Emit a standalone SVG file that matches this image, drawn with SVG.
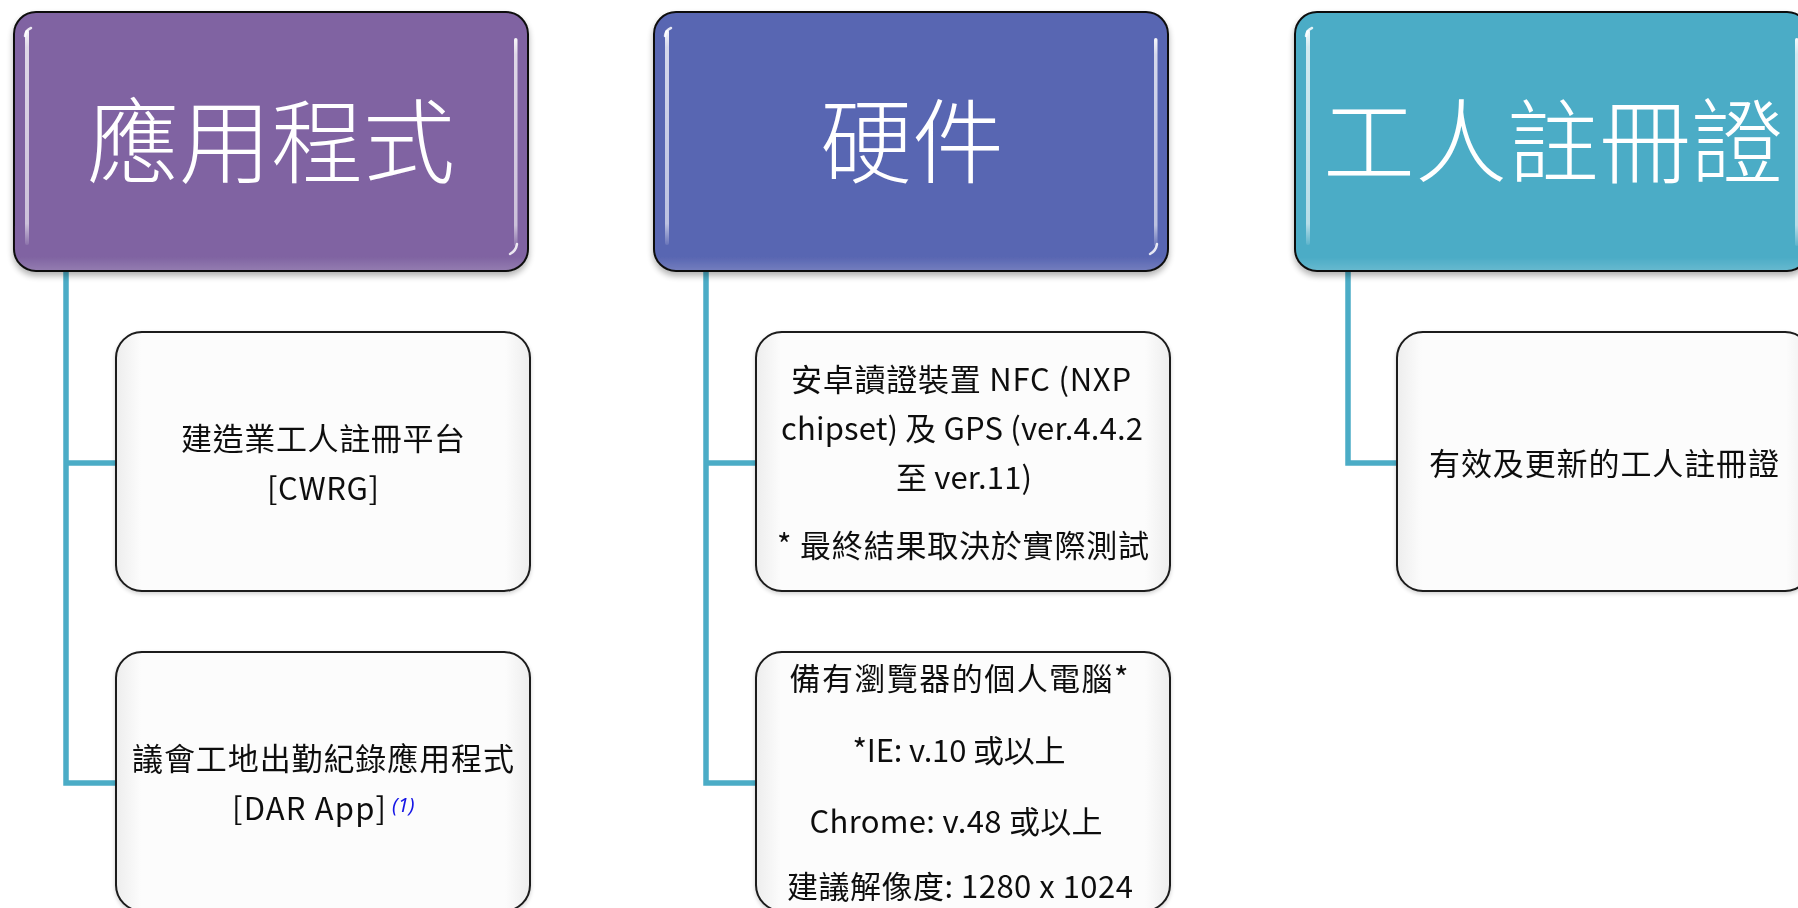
<svg xmlns="http://www.w3.org/2000/svg" width="1798" height="908" viewBox="0 0 1798 908">
  <defs>
    <filter id="sh" x="-5%" y="-5%" width="110%" height="115%">
      <feGaussianBlur in="SourceAlpha" stdDeviation="3"/>
      <feOffset dy="4" result="o"/>
      <feComponentTransfer><feFuncA type="linear" slope="0.3"/></feComponentTransfer>
      <feMerge><feMergeNode/><feMergeNode in="SourceGraphic"/></feMerge>
    </filter>
    <filter id="sh2" x="-5%" y="-5%" width="110%" height="115%">
      <feGaussianBlur in="SourceAlpha" stdDeviation="2"/>
      <feOffset dy="2" result="o"/>
      <feComponentTransfer><feFuncA type="linear" slope="0.18"/></feComponentTransfer>
      <feMerge><feMergeNode/><feMergeNode in="SourceGraphic"/></feMerge>
    </filter>
    <linearGradient id="hl" x1="0" y1="0" x2="0" y2="1">
      <stop offset="0" stop-color="#fff" stop-opacity="0.95"/>
      <stop offset="0.08" stop-color="#fff" stop-opacity="0.75"/>
      <stop offset="0.9" stop-color="#fff" stop-opacity="0.6"/>
      <stop offset="1" stop-color="#fff" stop-opacity="0.1"/>
    </linearGradient>
    <linearGradient id="bot" x1="0" y1="0" x2="0" y2="1">
      <stop offset="0" stop-color="#fff" stop-opacity="0"/>
      <stop offset="0.95" stop-color="#fff" stop-opacity="0"/>
      <stop offset="1" stop-color="#fff" stop-opacity="0.15"/>
    </linearGradient>
    <linearGradient id="cg" x1="0" y1="0" x2="1" y2="0">
      <stop offset="0" stop-color="#EDEDED"/>
      <stop offset="0.06" stop-color="#FCFCFC"/>
      <stop offset="0.94" stop-color="#FCFCFC"/>
      <stop offset="1" stop-color="#EDEDED"/>
    </linearGradient>
  </defs>
  <style>
    .hdr { stroke: #111; stroke-width: 2; }
    .hl { fill: url(#hl); }
    .bot { fill: url(#bot); }
    .arc { fill: none; stroke: #fff; stroke-width: 2.5; stroke-linecap: round; opacity: 0.85; }
    .ht { font-family: "Noto Sans CJK TC", "Noto Sans", sans-serif; font-size: 92px; font-weight: 300; fill: #fff; text-anchor: middle; }
    .box { fill: url(#cg); stroke: #1a1a1a; stroke-width: 2; }
    .t { font-family: "Noto Sans CJK TC", "Noto Sans", sans-serif; font-size: 31px; fill: #111; text-anchor: middle; }
    .sup { font-family: "Noto Sans", "Liberation Sans", sans-serif; font-size: 20px; font-style: italic; fill: #1515E6; }
    .con { fill: none; stroke: #4BACC6; stroke-width: 5.5; }
  </style>

  <g id="connectors">
    <path class="con" d="M66 271 V783 H116 M66 463 H116"/>
    <path class="con" d="M706 271 V783 H756 M706 463 H756"/>
    <path class="con" d="M1348 271 V463 H1397"/>
  </g>

  <g id="header-app" filter="url(#sh)">
    <rect class="hdr" x="14" y="12" width="514" height="259" rx="22" fill="#8064A2"/>
    <rect class="bot" x="15" y="13" width="512" height="257" rx="21"/>
    <rect class="hl" x="25" y="30" width="4" height="215" rx="2"/>
    <rect class="hl" x="514" y="38" width="3.5" height="208" rx="1.8"/>
    <path class="arc" d="M25 36 Q26 30 31 28"/>
    <path class="arc" d="M517 244 Q516 251 510 254"/>
    <text class="ht" x="271" y="176">應用程式</text>
  </g>

  <g id="header-hw" filter="url(#sh)">
    <rect class="hdr" x="654" y="12" width="514" height="259" rx="22" fill="#5966B2"/>
    <rect class="bot" x="655" y="13" width="512" height="257" rx="21"/>
    <rect class="hl" x="665" y="30" width="4" height="215" rx="2"/>
    <rect class="hl" x="1154" y="38" width="3.5" height="208" rx="1.8"/>
    <path class="arc" d="M665 36 Q666 30 671 28"/>
    <path class="arc" d="M1157 244 Q1156 251 1150 254"/>
    <text class="ht" x="912" y="176">硬件</text>
  </g>

  <g id="header-card" filter="url(#sh)">
    <rect class="hdr" x="1295" y="12" width="514" height="259" rx="22" fill="#4BACC6"/>
    <rect class="bot" x="1296" y="13" width="512" height="257" rx="21"/>
    <rect class="hl" x="1306" y="30" width="4" height="215" rx="2"/>
    <rect class="hl" x="1795" y="38" width="3.5" height="208" rx="1.8"/>
    <path class="arc" d="M1306 36 Q1307 30 1312 28"/>
    <text class="ht" x="1553" y="176">工人註冊證</text>
  </g>

  <g id="node-cwrg" filter="url(#sh2)">
    <rect class="box" x="116" y="332" width="414" height="259" rx="26"/>
    <text class="t" x="323" y="450" textLength="284" lengthAdjust="spacing">建造業工人註冊平台</text>
    <text class="t" x="323" y="500" textLength="112" lengthAdjust="spacing">[CWRG]</text>
  </g>

  <g id="node-dar" filter="url(#sh2)">
    <rect class="box" x="116" y="652" width="414" height="259" rx="26"/>
    <text class="t" x="323" y="770" textLength="382" lengthAdjust="spacing">議會工地出勤紀錄應用程式</text>
    <text class="t" x="309" y="820" textLength="154" lengthAdjust="spacing">[DAR App]</text>
    <text class="sup" x="392" y="812">(1)</text>
  </g>

  <g id="node-android" filter="url(#sh2)">
    <rect class="box" x="756" y="332" width="414" height="259" rx="26"/>
    <text class="t" x="961" y="391" textLength="340" lengthAdjust="spacing">安卓讀證裝置 NFC (NXP</text>
    <text class="t" x="962" y="440" textLength="362" lengthAdjust="spacing">chipset) 及 GPS (ver.4.4.2</text>
    <text class="t" x="964" y="489" textLength="136" lengthAdjust="spacing">至 ver.11)</text>
    <text class="t" x="963" y="557" textLength="372" lengthAdjust="spacing">* 最終結果取決於實際測試</text>
  </g>

  <g id="node-pc" filter="url(#sh2)">
    <rect class="box" x="756" y="652" width="414" height="259" rx="26"/>
    <text class="t" x="959" y="690" textLength="339" lengthAdjust="spacing">備有瀏覽器的個人電腦*</text>
    <text class="t" x="959" y="762" textLength="213" lengthAdjust="spacing">*IE: v.10 或以上</text>
    <text class="t" x="956" y="833" textLength="293" lengthAdjust="spacing">Chrome: v.48 或以上</text>
    <text class="t" x="960" y="898" textLength="346" lengthAdjust="spacing">建議解像度: 1280 x 1024</text>
  </g>

  <g id="node-valid" filter="url(#sh2)">
    <rect class="box" x="1397" y="332" width="414" height="259" rx="26"/>
    <text class="t" x="1604" y="475" textLength="350" lengthAdjust="spacing">有效及更新的工人註冊證</text>
  </g>
</svg>
